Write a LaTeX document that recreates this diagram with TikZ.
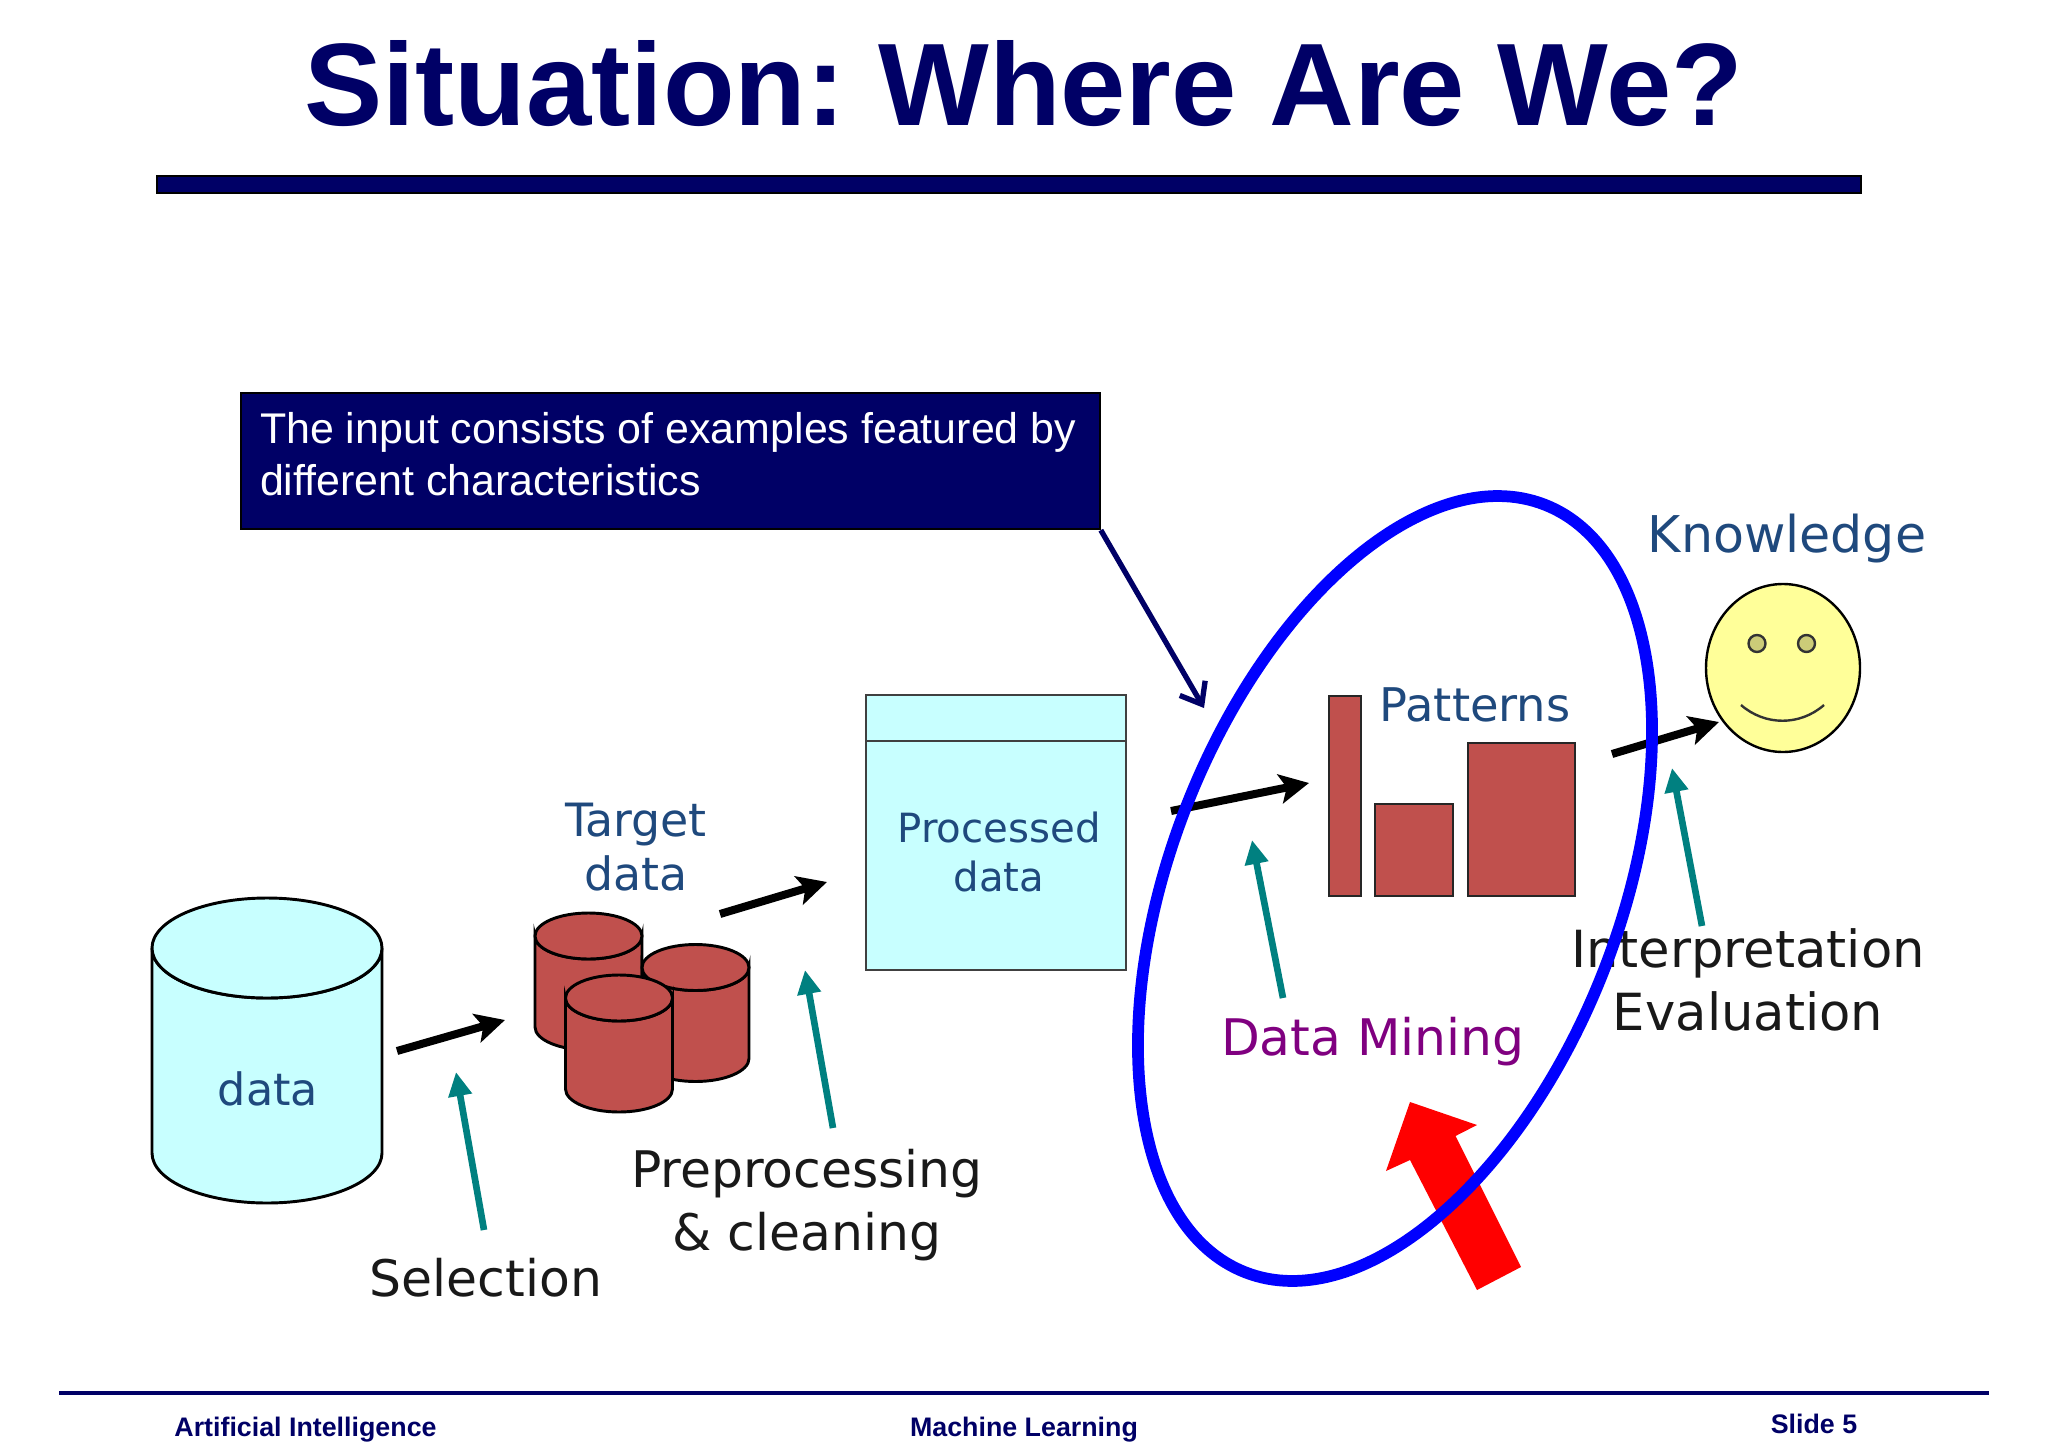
\documentclass[tikz,border=0pt]{standalone}
\usepackage{fontspec}
\setmainfont{Liberation Sans}
\newfontfamily\kddfont{DejaVu Sans}
\usetikzlibrary{arrows.meta}
\definecolor{slidenavy}{RGB}{0,0,102}
\definecolor{kddcyan}{RGB}{200,255,255}
\definecolor{kddred}{RGB}{192,80,77}
\definecolor{kddteal}{RGB}{0,128,128}
\definecolor{kddblue}{RGB}{31,73,125}
\definecolor{kddpurple}{RGB}{128,0,128}
\definecolor{smileyfill}{RGB}{255,255,153}
\definecolor{smileyeye}{RGB}{204,204,120}
\tikzset{every picture/.style={line width=0.75pt}}
\tikzset{
  kddlabel/.style 2 args={inner sep=0pt,align=center,font=\kddfont\fontsize{#1}{#2}\selectfont},
  blacklabel/.style={kddlabel={18.9}{23.6},text=black!90},
  bluelabel/.style={kddlabel={16.7}{20.2},text=kddblue},
  footlabel/.style={inner sep=0pt,anchor=base,text=slidenavy,font=\bfseries\fontsize{10.05}{12}\selectfont},
  blackarrow/.style={line width=3pt,-{Stealth[length=11pt,width=11pt,inset=2.5pt]}},
  tealarrow/.style={kddteal,line width=2.5pt,-{Triangle[length=9pt,width=8.5pt]}},
  drumoutline/.style={draw=black,line width=1.1pt,fill=kddred},
  baroutline/.style={draw=black!85,line width=1.1pt,fill=kddred},
}
\begin{document}
\begin{tikzpicture}[x=0.375pt,y=0.375pt,yscale=-1,xscale=1]
      \useasboundingbox (0,0) rectangle (2048,1448);
      % title and rules
      \draw (1024,84) node (title) [inner sep=0pt,text=slidenavy,font=\bfseries\fontsize{44}{52}\selectfont] {\frenchspacing Situation: Where Are We?};
      \fill [slidenavy,draw=black,line width=0.4pt] (157,176) rectangle (1861,193);
      \coordinate (footleft) at (59,1393);
      \coordinate (footright) at (1989,1393);
      \draw [slidenavy,line width=1.2pt] (footleft) -- (footright);
      \draw (305.5,1436) node (course) [footlabel] {Artificial Intelligence};
      \draw (1024,1436) node (topic) [footlabel] {Machine Learning};
      \draw (1814,1433) node (slideno) [footlabel] {Slide 5};
      % data cylinder
      \draw [draw=black,line width=1.1pt,fill=kddcyan] (152,948) -- (152,1153) arc (180:0:115 and 50) -- (382,948) arc (0:180:115 and 50) -- cycle;
      \draw [draw=black,line width=1.1pt,fill=kddcyan] (267,948) ellipse (115 and 50);
      \draw (268,1089) node (data) [bluelabel] {data};
      % target drums
      \foreach \cx/\cy in {588.5/936,695.5/967.5,619/998} {
        \draw [drumoutline] (\cx-53.5,\cy) -- (\cx-53.5,\cy+91) arc (180:0:53.5 and 23) -- (\cx+53.5,\cy) arc (0:180:53.5 and 23) -- cycle;
        \draw [drumoutline] (\cx,\cy) ellipse (53.5 and 23);
      }
      \draw (636,847) node (target) [bluelabel,kddlabel={17.2}{20.2}] {Target\\data};
      % processed data box
      \draw [draw=black!75,line width=1.1pt,fill=kddcyan] (866,695) rectangle (1126,970);
      \draw [draw=black!75,line width=1.1pt] (866,741) -- (1126,741);
      \draw (999,852) node (processed) [bluelabel,kddlabel={15.1}{18.4}] {Processed\\data};
      % pattern bars
      \draw [baroutline] (1329,696) rectangle (1361,896);
      \draw [baroutline] (1375,804) rectangle (1453,896);
      \draw [baroutline] (1468,743) rectangle (1575,896);
      \draw (1475,705) node (patterns) [bluelabel,kddlabel={17.4}{20}] {Patterns};
      % smiley
      \draw [draw=black,line width=0.9pt,fill=smileyfill] (1783,668) ellipse (77 and 84);
      \foreach \cx in {1757,1806.5} \draw [draw=black!80,line width=0.9pt,fill=smileyeye] (\cx,643.5) circle (8.5);
      \draw [draw=black!80,line width=0.9pt] (1741,705) .. controls (1765,726) and (1800,726) .. (1824,705);
      \draw (1787,539) node (knowledge) [bluelabel,kddlabel={19}{22}] {Knowledge};
      % process arrows
      \foreach \name/\px/\py in {selA/397/1051,selB/505/1020,preA/720/914,preB/827/882,minA/1171/811,minB/1309/783,intA/1612/754,intB/1719/722,
                                 selC/484/1230,selD/456/1072,preC/833/1128,preD/805/970,minC/1283/998,minD/1252/840,intC/1702/926,intD/1672/768,
                                 noteB/1204/708}
        \coordinate (\name) at (\px,\py);
      \foreach \from/\to in {selA/selB,preA/preB,minA/minB,intA/intB} \draw [blackarrow] (\from) -- (\to);
      \foreach \from/\to in {selC/selD,preC/preD,minC/minD,intC/intD} \draw [tealarrow] (\from) -- (\to);
      \draw (486,1278) node (selection) [blacklabel] {Selection};
      \draw (807,1205) node (prep) [blacklabel] {Preprocessing\\\& cleaning};
      \draw (1373,1042) node (mining) [kddlabel={18.9}{22},text=kddpurple] {Data Mining};
      \draw (1748,980) node (interp) [blacklabel,kddlabel={19.2}{23.6}] {Interpretation\\Evaluation};
      % red arrow and the loop round data mining
      \fill [red] (1410,1102) -- (1477,1125) -- (1455.5,1136) -- (1521,1267) -- (1477,1290) -- (1410,1160) -- (1386,1171) -- cycle;
      \draw [blue,line width=4.4pt,rotate around={21.3:(1395,888.5)}] (1395,888.5) ellipse (224.3 and 412);
      % note box
      \draw (240,392) node (note) [anchor=north west,minimum width=322pt,minimum height=51pt,inner sep=0pt,fill=slidenavy,draw=black,line width=0.8pt] {};
      \draw (259,454) node (notetext) [anchor=west,inner sep=0pt,align=left,text=white,font=\fontsize{16.1}{19.3}\selectfont] {The input consists of examples featured by\\different characteristics};
      \draw [slidenavy,line width=2pt,-{Straight Barb[length=7pt,width=11pt]}] (note.south east) -- (noteB);
\end{tikzpicture}
\end{document}
